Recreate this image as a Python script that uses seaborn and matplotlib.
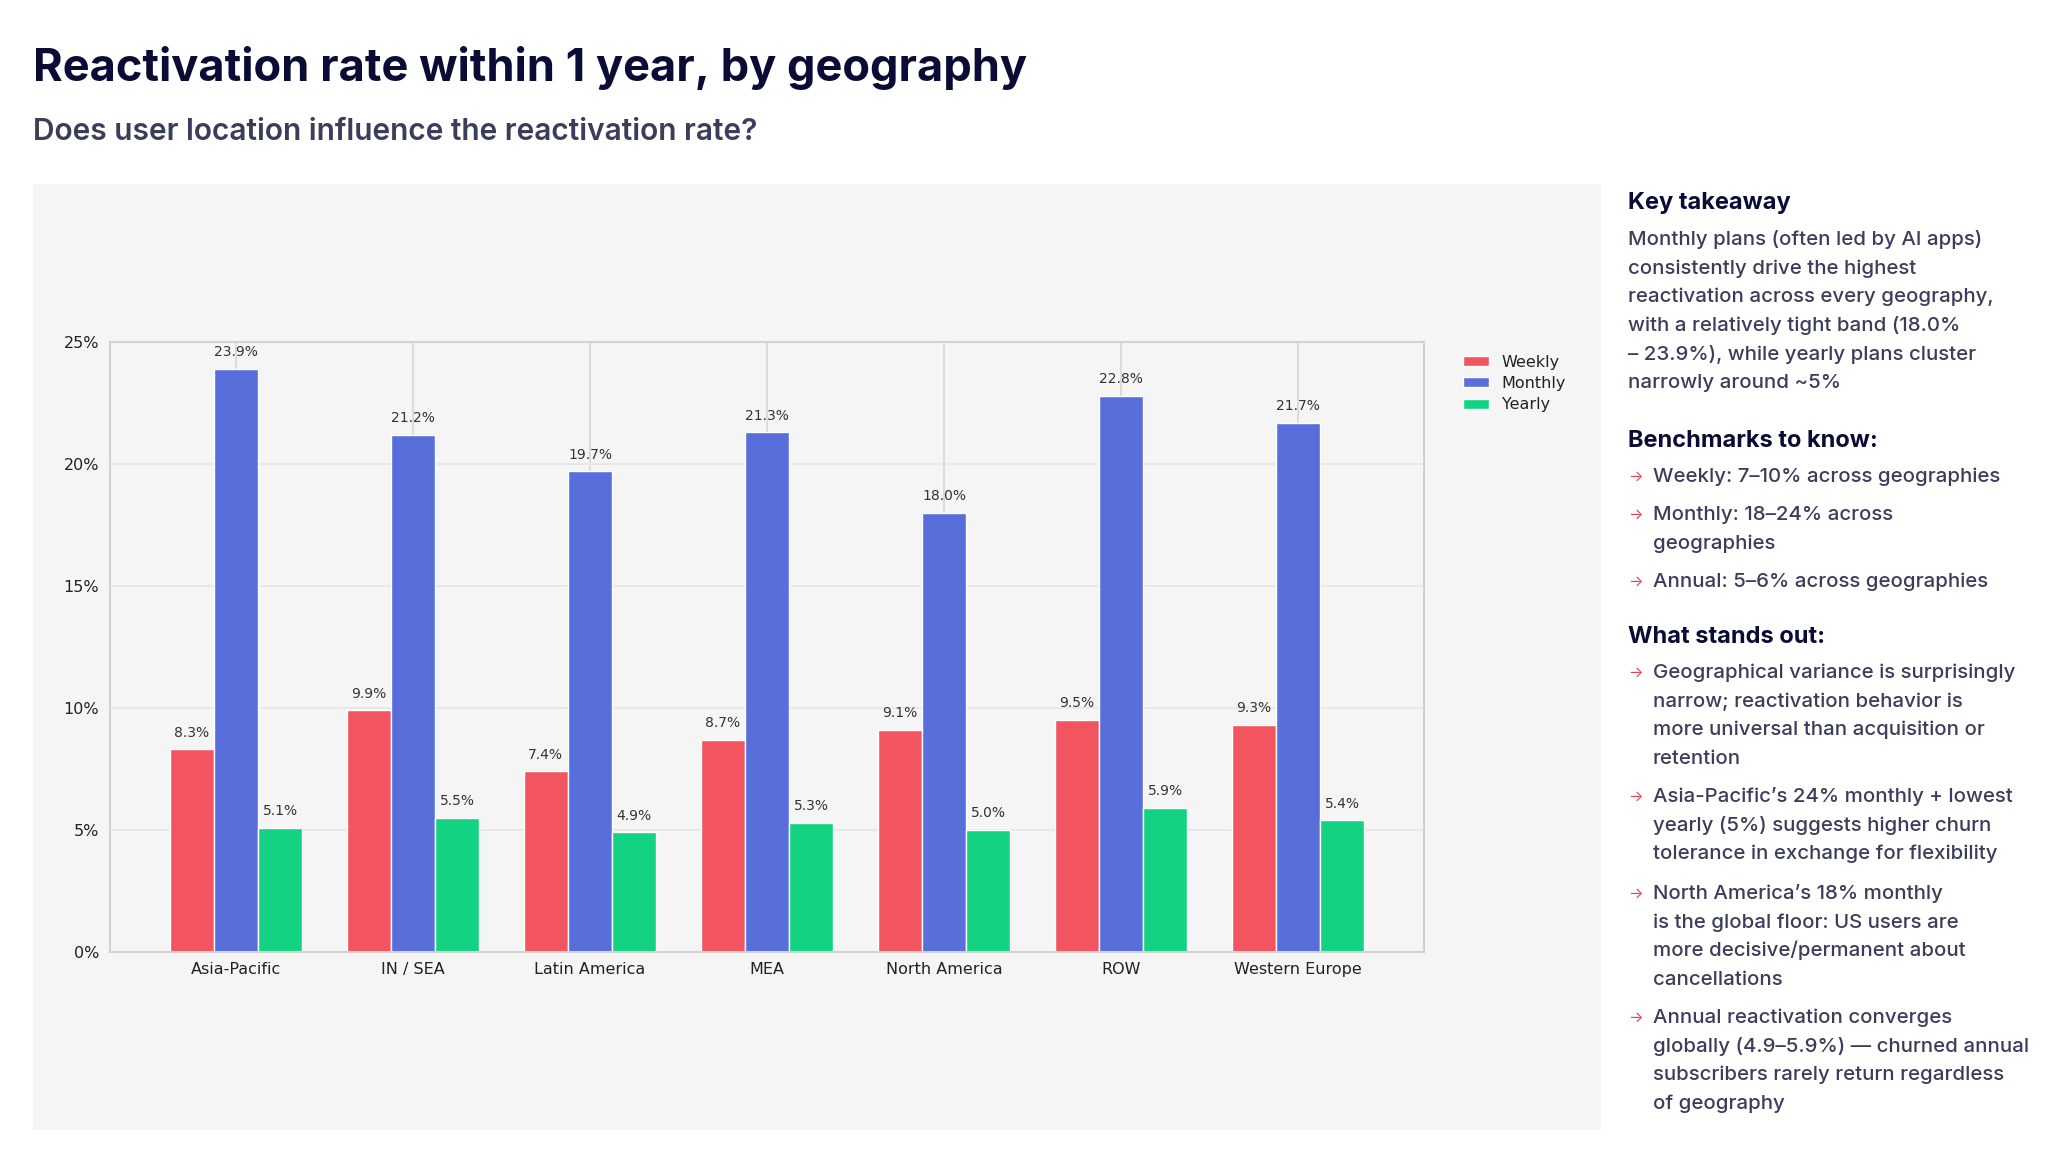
import pandas as pd
import numpy as np
import seaborn as sns
import matplotlib.pyplot as plt
from matplotlib.patches import Rectangle

# Data
regions = ["Asia-Pacific", "IN / SEA", "Latin America", "MEA",
           "North America", "ROW", "Western Europe"]
weekly = [8.3, 9.9, 7.4, 8.7, 9.1, 9.5, 9.3]
monthly = [23.9, 21.2, 19.7, 21.3, 18.0, 22.8, 21.7]
yearly = [5.1, 5.5, 4.9, 5.3, 5.0, 5.9, 5.4]
plans = ["Weekly", "Monthly", "Yearly"]
colors = ["#F25560", "#586EDB", "#13D383"]
y_ticks = [0, 5, 10, 15, 20, 25]

title = "Reactivation rate within 1 year, by geography"
subtitle = "Does user location influence the reactivation rate?"

takeaway = ["Monthly plans (often led by AI apps)",
            "consistently drive the highest",
            "reactivation across every geography,",
            "with a relatively tight band (18.0%",
            "\u2013 23.9%), while yearly plans cluster",
            "narrowly around ~5%"]
benchmarks = [["Weekly: 7\u201310% across geographies"],
              ["Monthly: 18\u201324% across", "geographies"],
              ["Annual: 5\u20136% across geographies"]]
stands_out = [["Geographical variance is surprisingly",
               "narrow; reactivation behavior is",
               "more universal than acquisition or",
               "retention"],
              ["Asia-Pacific\u2019s 24% monthly + lowest",
               "yearly (5%) suggests higher churn",
               "tolerance in exchange for flexibility"],
              ["North America\u2019s 18% monthly",
               "is the global floor: US users are",
               "more decisive/permanent about",
               "cancellations"],
              ["Annual reactivation converges",
               "globally (4.9\u20135.9%) \u2014 churned annual",
               "subscribers rarely return regardless",
               "of geography"]]

df = pd.DataFrame({
    "region": regions * 3,
    "plan": [p for p in plans for _ in regions],
    "rate": weekly + monthly + yearly,
})

sns.set_style("white")
plt.rcParams["font.family"] = ["DejaVu Sans"]

W, H = 2048, 1164
fig = plt.figure(figsize=(W / 100, H / 100), dpi=100)
fig.patch.set_facecolor("white")

# grey chart card
fig.patches.append(Rectangle((33 / W, 34 / H), 1568 / W, 946 / H,
                             transform=fig.transFigure, facecolor="#F5F5F5",
                             edgecolor="none", zorder=-5))

ax = fig.add_axes([110 / W, 212 / H, 1314 / W, 610 / H])
ax.set_zorder(2)
ax.set_facecolor("#F5F5F5")

sns.barplot(data=df, x="region", y="rate", hue="plan", hue_order=plans,
            palette=colors, saturation=1, width=0.75, edgecolor="white",
            linewidth=1, ax=ax)

for cont in ax.containers:
    ax.bar_label(cont, fmt="%.1f%%", padding=7, fontsize=10, color="#333333")

ax.set_xlim(-0.7125, 6.7125)
ax.set_ylim(0, 25)
ax.set_yticks(y_ticks)
ax.set_yticklabels([f"{t}%" for t in y_ticks])
ax.set_xlabel("")
ax.set_ylabel("")
ax.tick_params(axis="both", length=0, labelsize=11.5, colors="#222222")
ax.tick_params(axis="x", pad=7)
ax.tick_params(axis="y", pad=8)
ax.yaxis.grid(True, color="#E6E6E6", lw=1.2)
ax.xaxis.grid(True, color="#D6D6D6", lw=1.2)
ax.set_axisbelow(True)
for s in ax.spines.values():
    s.set_visible(True)
    s.set_color("#D2D2D2")
    s.set_linewidth(1.5)

ax.legend(loc="upper left", bbox_to_anchor=(1.019, 1.003), frameon=False,
          fontsize=11.5, handlelength=1.6, handleheight=0.6,
          labelspacing=0.4, labelcolor="#222222")

# slide text
head_font = ["Inter", "DejaVu Sans"]
navy = "#0B0C36"
body = "#3B3D5A"
red = "#E8414E"

fig.text(33 / W, 1 - 81 / H, title, fontsize=32.5, fontweight="bold",
         family=head_font, color=navy, va="baseline")
fig.text(33 / W, 1 - 140 / H, subtitle, fontsize=21.5, fontweight="semibold",
         family=head_font, color=body, va="baseline")

x0 = 1628 / W
xb = 1653 / W
fs = 14.7
ls = 28.7


def put_line(x, ypx, s, **kw):
    fig.text(x, 1 - ypx / H, s, fontsize=kw.pop("size", fs), family=head_font,
             va="baseline", **kw)


put_line(x0, 209, "Key takeaway", size=17, fontweight="bold", color=navy)
for i, line in enumerate(takeaway):
    put_line(x0, 245 + i * ls, line, color=body, fontweight="medium")

put_line(x0, 447, "Benchmarks to know:", size=17, fontweight="bold", color=navy)
ypos = [482, 520, 587]
for y, item in zip(ypos, benchmarks):
    put_line(x0, y - 1, "\u2192", size=11, color=red)
    for j, line in enumerate(item):
        put_line(xb, y + j * ls, line, color=body, fontweight="medium")

put_line(x0, 643, "What stands out:", size=17, fontweight="bold", color=navy)
ypos = [678, 802, 899, 1023]
for y, item in zip(ypos, stands_out):
    put_line(x0, y - 1, "\u2192", size=11, color=red)
    for j, line in enumerate(item):
        put_line(xb, y + j * ls, line, color=body, fontweight="medium")

fig.savefig("out.png", dpi=100, facecolor="white")
